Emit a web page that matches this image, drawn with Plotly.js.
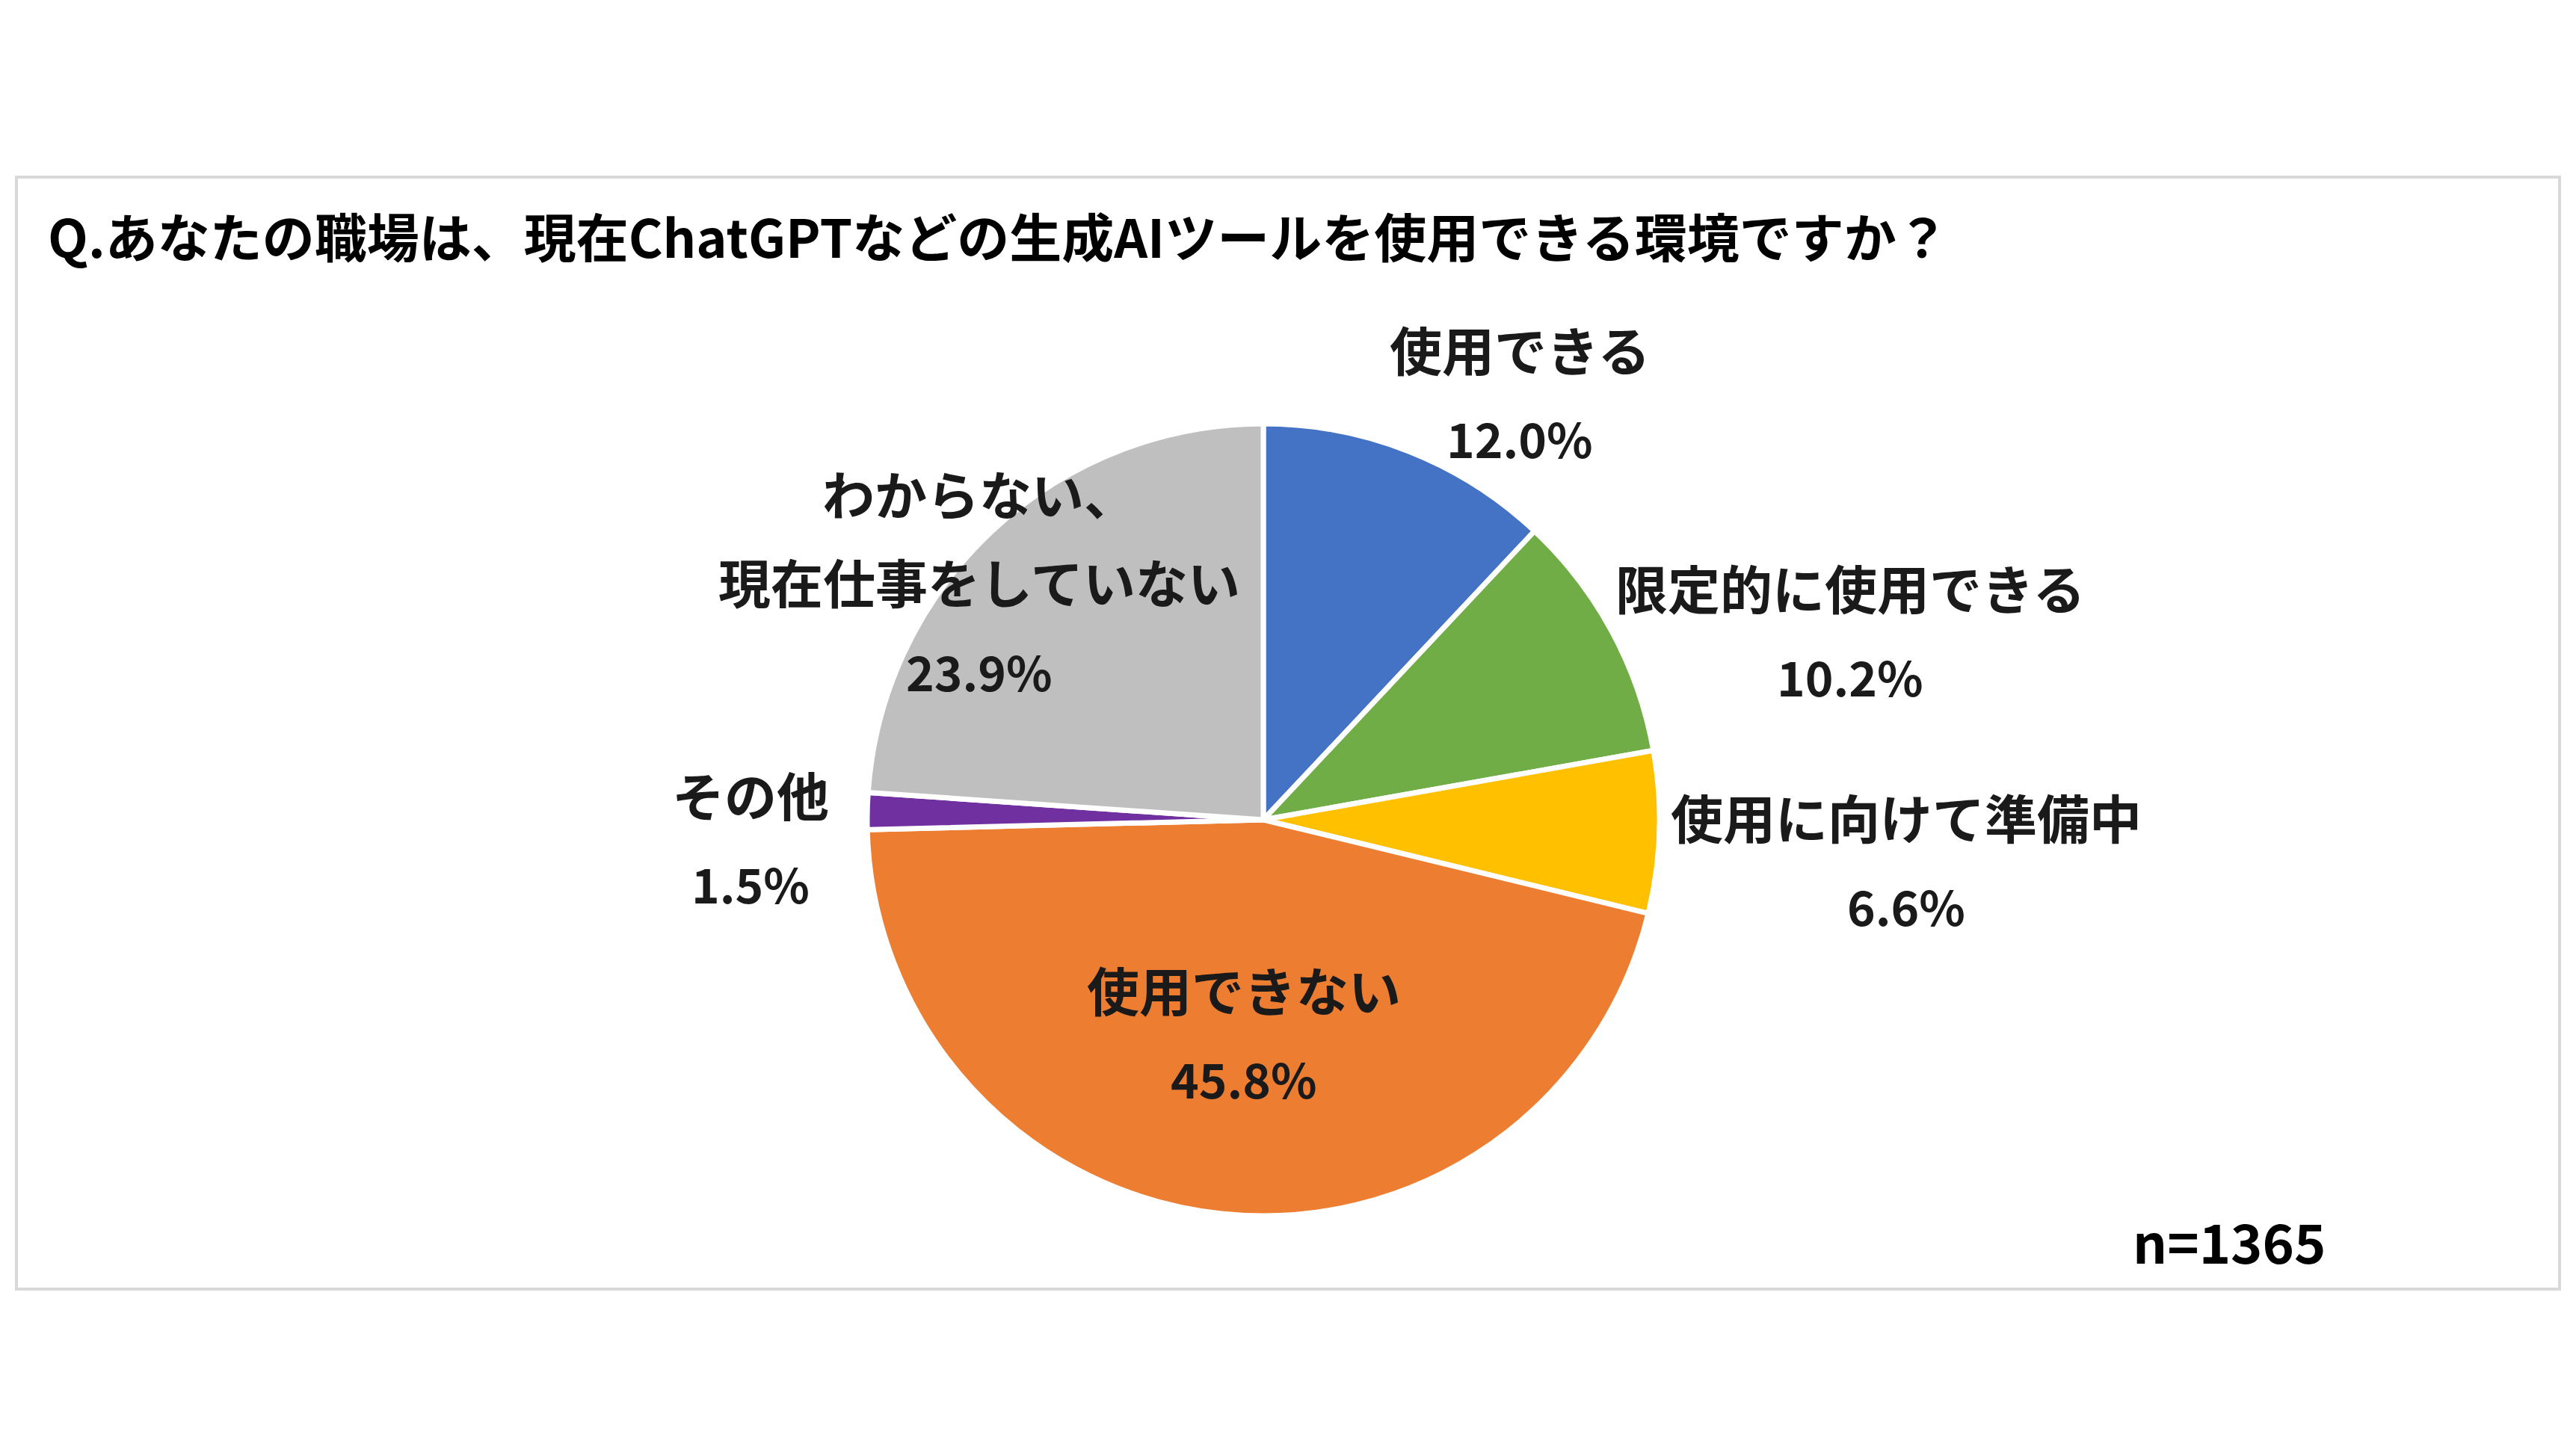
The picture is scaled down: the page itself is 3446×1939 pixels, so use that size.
<!DOCTYPE html>
<html>
<head>
<meta charset="utf-8">
<script src="https://cdn.plot.ly/plotly-3.0.1.min.js"></script>
<style>html,body{margin:0;padding:0;background:#fff;}#chart{width:3446px;height:1939px;}</style>
</head>
<body>
<div id="chart"></div>
<script>
// ---- data ----
const categories = ["使用できる", "限定的に使用できる", "使用に向けて準備中", "使用できない", "その他", "わからない、|現在仕事をしていない"];
const values = [12.0, 10.2, 6.6, 45.8, 1.5, 23.9];
const colors = ["#4472C4", "#70AD47", "#FFC000", "#ED7D31", "#7030A0", "#BFBFBF"];
const titleText = "Q.あなたの職場は、現在ChatGPTなどの生成AIツールを使用できる環境ですか？";
const sampleNote = "n=1365";

// ---- layout helpers (pixel positions of label blocks: center x, first line y) ----
const W = 3446, H = 1939;
const labelPos = [[2033, 466], [2475, 785], [2550, 1092], [1664, 1323], [1004, 1062], [1310, 659]];
const lineGap = 119;
const font = "Noto Sans CJK JP, Noto Sans, sans-serif";

const pie = {
  type: "pie",
  labels: categories.map(c => c.replace("|", "")),
  values: values,
  sort: false,
  direction: "clockwise",
  rotation: 0,
  textinfo: "none",
  hoverinfo: "label+percent",
  marker: {colors: colors, line: {color: "#ffffff", width: 7}},
  domain: {x: [(1690 - 530) / W, (1690 + 530) / W], y: [1 - (1097 + 530) / H, 1 - (1097 - 530) / H]},
  showlegend: false
};

const annotations = [];
categories.forEach((c, i) => {
  const names = c.split("|");
  const lines = names.concat([values[i].toFixed(1) + "%"]);
  lines.forEach((t, k) => {
    const isPct = k === lines.length - 1;
    annotations.push({
      text: t, xref: "paper", yref: "paper",
      x: labelPos[i][0] / W, y: 1 - (labelPos[i][1] + k * lineGap) / H,
      xanchor: "center", yanchor: "middle", showarrow: false,
      font: {family: font, size: isPct ? 64 : 70, color: "#1a1a1a", weight: 700}
    });
  });
});
annotations.push({
  text: titleText, xref: "paper", yref: "paper", x: 62 / W, y: 1 - 314 / H,
  xanchor: "left", yanchor: "middle", showarrow: false,
  font: {family: font, size: 70, color: "#000000", weight: 700}
});
annotations.push({
  text: sampleNote, xref: "paper", yref: "paper", x: 2982 / W, y: 1 - 1659 / H,
  xanchor: "center", yanchor: "middle", showarrow: false,
  font: {family: font, size: 72, color: "#000000", weight: 700}
});

const layout = {
  width: W, height: H,
  margin: {l: 0, r: 0, t: 0, b: 0},
  paper_bgcolor: "#ffffff",
  annotations: annotations,
  shapes: [{type: "rect", xref: "paper", yref: "paper", x0: 22 / W, x1: 3424 / W, y0: 1 - 1725 / H, y1: 1 - 237 / H,
            line: {color: "#D9D9D9", width: 4}, fillcolor: "rgba(0,0,0,0)"}]
};

Plotly.newPlot("chart", [pie], layout, {displayModeBar: false, staticPlot: true});
</script>
</body>
</html>
